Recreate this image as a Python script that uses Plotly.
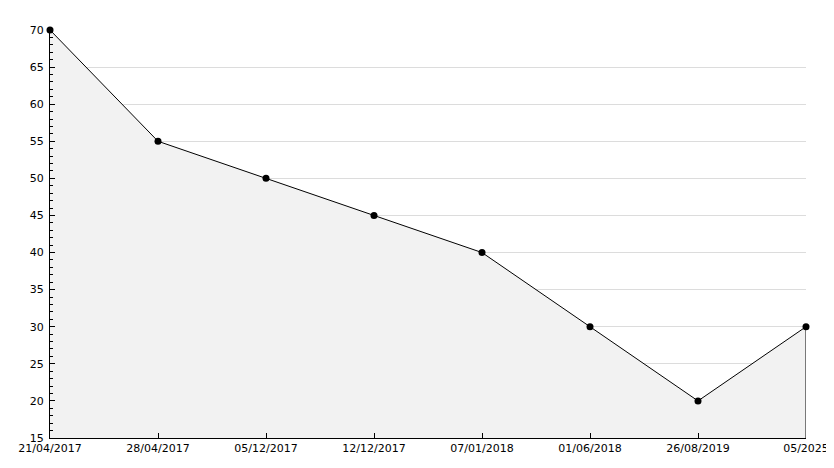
import plotly.graph_objects as go

dates = ["21/04/2017", "28/04/2017", "05/12/2017", "12/12/2017",
         "07/01/2018", "01/06/2018", "26/08/2019", "05/2025"]
values = [70, 55, 50, 45, 40, 30, 20, 30]
y_min, y_max = 15, 70

fig = go.Figure()
fig.add_trace(go.Scatter(
    x=dates, y=values, mode="lines+markers",
    line=dict(color="black", width=1),
    marker=dict(color="black", size=7, symbol="circle"),
    fill="tozeroy", fillcolor="#f2f2f2",
    hoverinfo="x+y", cliponaxis=False,
))
# closing edge of the filled area at the last point
fig.add_trace(go.Scatter(
    x=[dates[-1], dates[-1]], y=[y_min, values[-1]], mode="lines",
    line=dict(color="black", width=1), hoverinfo="skip",
))

fig.update_layout(
    width=826, height=460,
    margin=dict(l=42, r=28, t=22, b=30),
    paper_bgcolor="white", plot_bgcolor="white",
    showlegend=False,
    font=dict(family="DejaVu Sans", size=11, color="black"),
)
fig.update_xaxes(
    type="category", range=[0, len(dates) - 1],
    automargin=False,
    showgrid=False, zeroline=False,
    showline=True, linecolor="black", linewidth=1,
    ticks="inside", ticklen=5, tickcolor="black",
    tickfont=dict(size=11),
)
fig.update_yaxes(
    range=[y_min, y_max], dtick=5, tick0=0,
    automargin=False,
    showgrid=True, gridcolor="#dcdcdc", gridwidth=1,
    zeroline=False,
    showline=True, linecolor="black", linewidth=1,
    ticks="inside", ticklen=5, tickcolor="black",
    ticklabelstandoff=3,
    minor=dict(dtick=1, ticks="inside", ticklen=3, tickcolor="black", showgrid=False),
    tickfont=dict(size=11),
)

fig.write_html("out.html")
